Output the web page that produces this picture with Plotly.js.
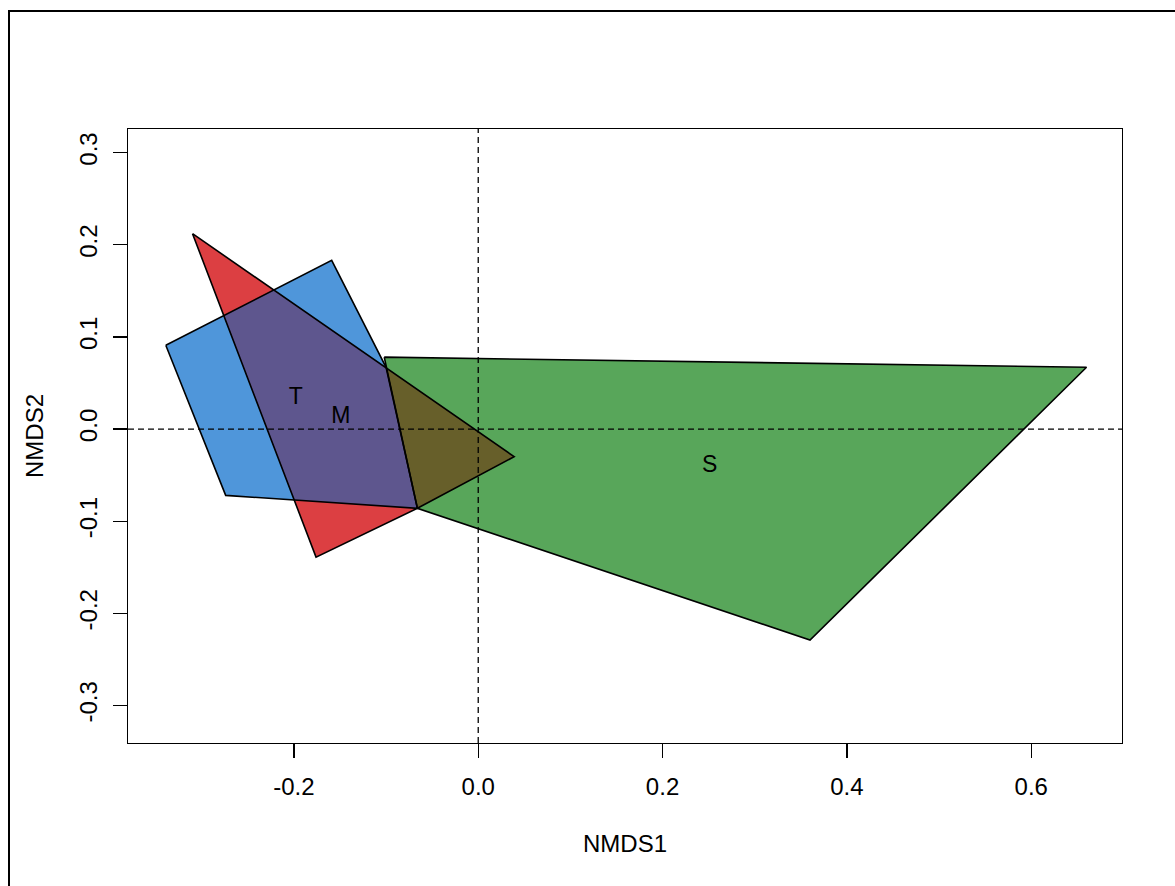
<!DOCTYPE html>
<html>
<head>
<meta charset="utf-8">
<script src="https://cdn.plot.ly/plotly-3.0.1.min.js"></script>
<style>
  html, body { margin: 0; padding: 0; background: #fff; }
  #wrap { position: relative; width: 1175px; height: 886px; overflow: hidden; }
  #chart { position: absolute; left: 0; top: 0; width: 1175px; height: 886px; }
  #frame { position: absolute; left: 8px; top: 10px; width: 1200px; height: 900px;
           border-left: 2px solid #000; border-top: 2px solid #000; pointer-events: none; }
</style>
</head>
<body>
<div id="wrap">
  <div id="chart"></div>
  <div id="frame"></div>
</div>
<script>
// ---- Data (NMDS hull vertices) ----
const groups = ["T", "M", "S"];

const hullT_x = [-0.339, -0.159, -0.100, -0.066, -0.274];
const hullT_y = [ 0.091,  0.183,  0.067, -0.086, -0.072];

const hullM_x = [-0.310,  0.039, -0.066, -0.176];
const hullM_y = [ 0.212, -0.030, -0.086, -0.139];

const hullS_x = [-0.102,  0.660,  0.360, -0.066];
const hullS_y = [ 0.078,  0.067, -0.229, -0.086];

// group label positions (centroids)
const labelX = [-0.198, -0.149, 0.251];
const labelY = [ 0.033,  0.013, -0.040];

const xTicks = [-0.2, 0.0, 0.2, 0.4, 0.6];
const xTickText = ["-0.2", "0.0", "0.2", "0.4", "0.6"];
const yTicks = [-0.3, -0.2, -0.1, 0.0, 0.1, 0.2, 0.3];
const yTickText = ["-0.3", "-0.2", "-0.1", "0.0", "0.1", "0.2", "0.3"];

// ---- Styles ----
const colT = "#4F96DA";
const colM = "#DC3F42";
const colS = "#58A65A";
const colTM = "#5E568E";
const colMS = "#675F2A";
const FONT = "Liberation Sans, Arial, Helvetica, sans-serif";

// ---- Convex polygon clipping (Sutherland–Hodgman) ----
function toPts(xs, ys) { return xs.map((x, i) => [x, ys[i]]); }
function area(p) {
  let a = 0;
  for (let i = 0; i < p.length; i++) {
    const q = p[i], r = p[(i + 1) % p.length];
    a += q[0] * r[1] - r[0] * q[1];
  }
  return a / 2;
}
function clip(subject, clipPoly) {
  const sgn = area(clipPoly) > 0 ? 1 : -1;
  let out = subject.slice();
  for (let i = 0; i < clipPoly.length && out.length; i++) {
    const A = clipPoly[i], B = clipPoly[(i + 1) % clipPoly.length];
    const inside = p => sgn * ((B[0] - A[0]) * (p[1] - A[1]) - (B[1] - A[1]) * (p[0] - A[0])) >= 0;
    const inter = (P, Q) => {
      const a1 = B[1] - A[1], b1 = A[0] - B[0], c1 = a1 * A[0] + b1 * A[1];
      const a2 = Q[1] - P[1], b2 = P[0] - Q[0], c2 = a2 * P[0] + b2 * P[1];
      const d = a1 * b2 - a2 * b1;
      return [(b2 * c1 - b1 * c2) / d, (a1 * c2 - a2 * c1) / d];
    };
    const input = out; out = [];
    for (let j = 0; j < input.length; j++) {
      const P = input[j], Q = input[(j + 1) % input.length];
      const pin = inside(P), qin = inside(Q);
      if (pin) {
        out.push(P);
        if (!qin) out.push(inter(P, Q));
      } else if (qin) {
        out.push(inter(P, Q));
      }
    }
  }
  return out;
}

const pT = toPts(hullT_x, hullT_y);
const pM = toPts(hullM_x, hullM_y);
const pS = toPts(hullS_x, hullS_y);
const pTM = clip(pM, pT);
const pMS = clip(pM, pS);

function fillTrace(pts, color) {
  return {
    type: "scatter", mode: "lines",
    x: pts.map(p => p[0]).concat([pts[0][0]]),
    y: pts.map(p => p[1]).concat([pts[0][1]]),
    fill: "toself", fillcolor: color,
    line: { width: 0, color: color },
    hoverinfo: "skip", showlegend: false
  };
}
function outlineTrace(xs, ys) {
  return {
    type: "scatter", mode: "lines",
    x: xs.concat([xs[0]]), y: ys.concat([ys[0]]),
    line: { color: "#000", width: 1.6 },
    hoverinfo: "skip", showlegend: false
  };
}

const traces = [
  fillTrace(pS, colS),
  fillTrace(pT, colT),
  fillTrace(pM, colM),
  fillTrace(pTM, colTM),
  fillTrace(pMS, colMS),
  outlineTrace(hullS_x, hullS_y),
  outlineTrace(hullT_x, hullT_y),
  outlineTrace(hullM_x, hullM_y),
  {
    type: "scatter", mode: "text",
    x: labelX, y: labelY, text: groups,
    textfont: { family: FONT, size: 23, color: "#000" },
    textposition: "middle center",
    hoverinfo: "skip", showlegend: false
  }
];

const axisCommon = {
  showgrid: false, zeroline: false,
  showline: true, mirror: true, linecolor: "#000", linewidth: 1.3,
  ticks: "outside", ticklen: 14, tickwidth: 1.3, tickcolor: "#000",
  tickfont: { family: FONT, size: 24, color: "#000" },
  fixedrange: true
};

const layout = {
  width: 1175, height: 886,
  margin: { l: 128, r: 53, t: 129, b: 143 },
  paper_bgcolor: "#fff", plot_bgcolor: "#fff",
  showlegend: false,
  xaxis: Object.assign({}, axisCommon, {
    range: [-0.380, 0.6985],
    tickmode: "array", tickvals: xTicks, ticktext: xTickText,
    ticklabelstandoff: 8,
    title: { text: "NMDS1", font: { family: FONT, size: 24, color: "#000" }, standoff: 36 }
  }),
  yaxis: Object.assign({}, axisCommon, {
    range: [-0.3407, 0.3256],
    tickmode: "array", tickvals: yTicks, ticktext: yTickText,
    tickangle: -90,
    ticklabelstandoff: 6,
    title: { text: "NMDS2", font: { family: FONT, size: 24, color: "#000" }, standoff: 24 }
  }),
  shapes: [
    { type: "line", xref: "x", yref: "paper", x0: 0, x1: 0, y0: 0, y1: 1,
      line: { color: "#000", width: 1.3, dash: "6px,4px" }, layer: "above" },
    { type: "line", xref: "paper", yref: "y", x0: 0, x1: 1, y0: 0, y1: 0,
      line: { color: "#000", width: 1.3, dash: "6px,4px" }, layer: "above" }
  ]
};

Plotly.newPlot("chart", traces, layout, { displayModeBar: false, staticPlot: true });
</script>
</body>
</html>
